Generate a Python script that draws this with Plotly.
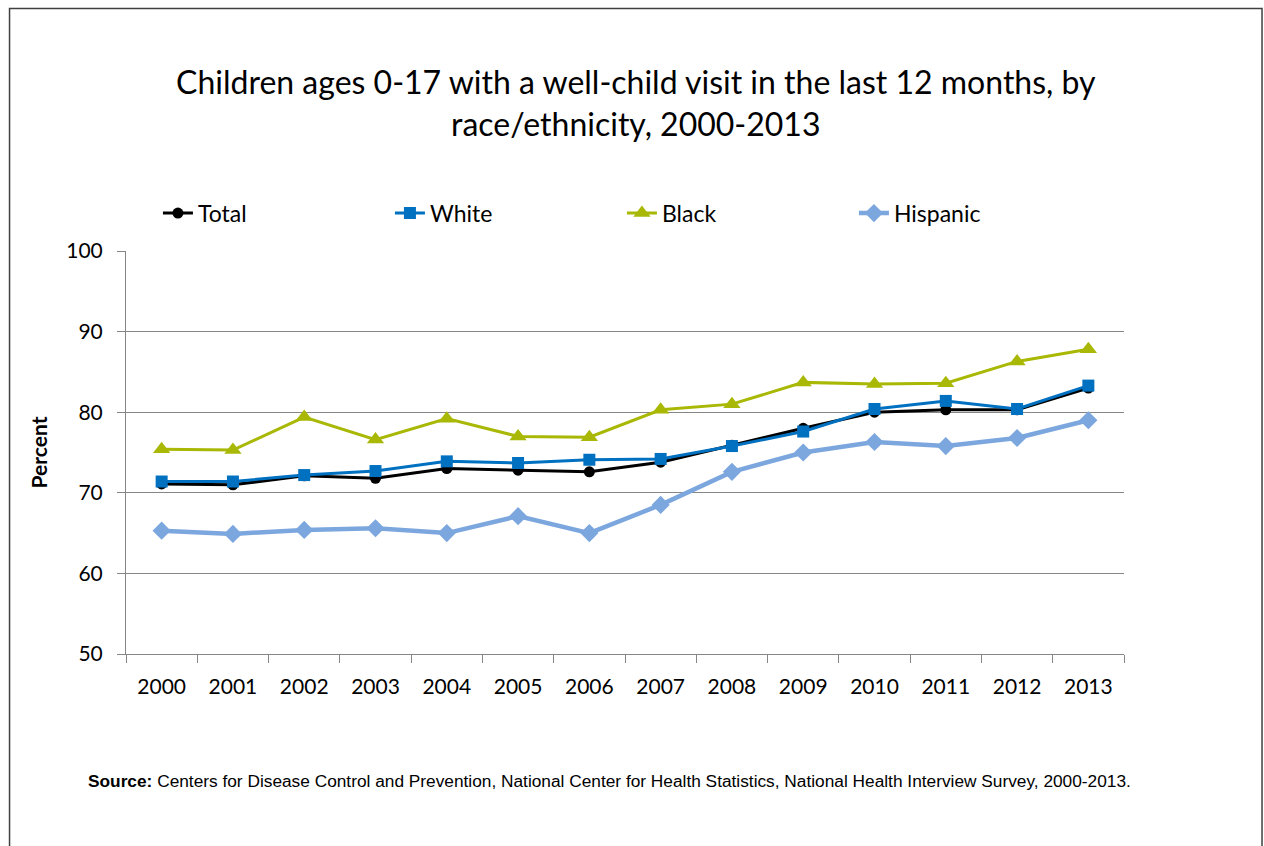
import plotly.graph_objects as go

years = ["2000", "2001", "2002", "2003", "2004", "2005", "2006",
         "2007", "2008", "2009", "2010", "2011", "2012", "2013"]
total = [71.1, 71.0, 72.1, 71.8, 73.0, 72.8, 72.6, 73.8, 75.9, 78.0, 80.0, 80.3, 80.3, 83.0]
white = [71.4, 71.4, 72.2, 72.7, 73.9, 73.7, 74.1, 74.2, 75.8, 77.6, 80.4, 81.4, 80.4, 83.3]
black = [75.4, 75.3, 79.4, 76.6, 79.2, 77.0, 76.9, 80.3, 81.0, 83.7, 83.5, 83.6, 86.3, 87.8]
hispanic = [65.3, 64.9, 65.4, 65.6, 65.0, 67.1, 65.0, 68.5, 72.6, 75.0, 76.3, 75.8, 76.8, 79.0]
y_ticks = [50, 60, 70, 80, 90, 100]

FONT = "Lato, Carlito, Calibri, sans-serif"

fig = go.Figure()
fig.add_trace(go.Scatter(x=years, y=total, name="Total", mode="lines+markers",
                         line=dict(color="#000000", width=3),
                         marker=dict(symbol="circle", size=11, color="#000000")))
fig.add_trace(go.Scatter(x=years, y=white, name="White", mode="lines+markers",
                         line=dict(color="#0070C0", width=3),
                         marker=dict(symbol="square", size=12, color="#0070C0")))
fig.add_trace(go.Scatter(x=years, y=black, name="Black", mode="lines+markers",
                         line=dict(color="#A8B804", width=3),
                         marker=dict(symbol="triangle-up", size=15, color="#A8B804")))
fig.add_trace(go.Scatter(x=years, y=hispanic, name="Hispanic", mode="lines+markers",
                         line=dict(color="#7CA7DE", width=4.5),
                         marker=dict(symbol="diamond", size=14, color="#7CA7DE")))

fig.update_layout(
    width=1264, height=846,
    margin=dict(l=126, r=140, t=251, b=192),
    paper_bgcolor="white", plot_bgcolor="white",
    font=dict(family=FONT, color="#000000"),
    title=dict(text="Children ages 0-17 with a well-child visit in the last 12 months, by<br>race/ethnicity, 2000-2013",
               x=0.503, xanchor="center", y=0.889, yanchor="middle",
               font=dict(family=FONT, size=32, color="#000000")),
    showlegend=True,
    legend=dict(orientation="h", x=0.032, xanchor="left", y=1.094, yanchor="middle",
                font=dict(family=FONT, size=23, color="#000000"),
                entrywidth=187, entrywidthmode="pixels",
                itemwidth=30, traceorder="normal", bgcolor="rgba(0,0,0,0)"),
    xaxis=dict(type="category", tickson="boundaries", ticks="outside", ticklen=8,
               tickcolor="#868686", showline=True, linecolor="#868686", linewidth=1,
               showgrid=False, tickfont=dict(family=FONT, size=21, color="#000000"),
               ticklabelstandoff=14, range=[-0.5, 13.5]),
    yaxis=dict(range=[50, 100], tickvals=y_ticks, ticks="outside", ticklen=8,
               tickcolor="#868686", showline=True, linecolor="#868686", linewidth=1,
               showgrid=True, gridcolor="#868686", gridwidth=1, zeroline=False,
               tickfont=dict(family=FONT, size=21, color="#000000"),
               ticklabelstandoff=10,
               title=dict(text="<b>Percent</b>", font=dict(family=FONT, size=21, color="#000000"),
                          standoff=12)),
)

fig.add_annotation(
    text="<b>Source:</b> Centers for Disease Control and Prevention, National Center for Health Statistics, National Health Interview Survey, 2000-2013.",
    xref="paper", yref="paper", x=-0.040, y=-0.315, xanchor="left", yanchor="middle",
    showarrow=False, font=dict(family="Liberation Sans, Arial, sans-serif", size=17.3, color="#000000"))

fig.add_shape(type="rect", xref="paper", yref="paper",
              x0=-0.1167, x1=1.1383, y0=-0.49, y1=1.6017,
              line=dict(color="#404040", width=1.5), fillcolor="rgba(0,0,0,0)", layer="below")

fig.write_html("out.html",
               config={"displayModeBar": False},
               post_script="document.body.style.margin='0';document.body.style.overflow='hidden';")
